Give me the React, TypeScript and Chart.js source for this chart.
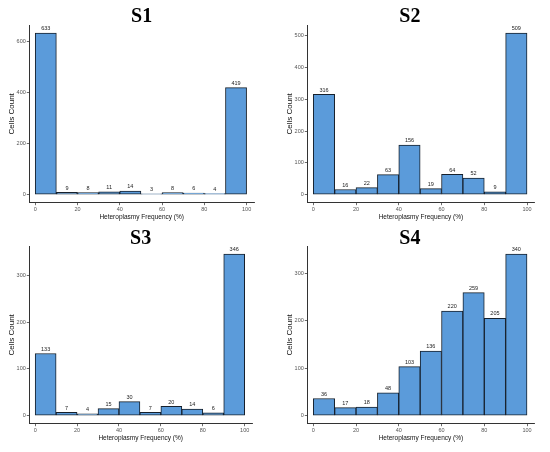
import { useEffect, useRef } from "react";
import { Chart, registerables } from "chart.js";
Chart.register(...registerables);

// histogram bins (Heteroplasmy Frequency %)
const binStarts = [0, 10, 20, 30, 40, 50, 60, 70, 80, 90];
const binWidth = 10;
const xTicks = [0, 20, 40, 60, 80, 100];

const panelTitles = ["S1", "S2", "S3", "S4"];

const s1Counts = [633, 9, 8, 11, 14, 3, 8, 6, 4, 419];
const s2Counts = [316, 16, 22, 63, 156, 19, 64, 52, 9, 509];
const s3Counts = [133, 7, 4, 15, 30, 7, 20, 14, 6, 346];
const s4Counts = [36, 17, 18, 48, 103, 136, 220, 259, 205, 340];

const s1Ticks = [0, 200, 400, 600];
const s2Ticks = [0, 100, 200, 300, 400, 500];
const s3Ticks = [0, 100, 200, 300];
const s4Ticks = [0, 100, 200, 300];

const W = 275;
const H = 226;
const Y_AXIS_W = 22;
const X_AXIS_H = 18;
const AREA_BOTTOM = 202.7;

const sans = "'Liberation Sans', Arial, sans-serif";

const barLabels = {
  id: "barLabels",
  afterDatasetsDraw(chart: any) {
    const { ctx } = chart;
    const meta = chart.getDatasetMeta(0);
    const values = chart.data.datasets[0].data;
    ctx.save();
    ctx.font = `5.5px ${sans}`;
    ctx.fillStyle = "#222";
    ctx.textAlign = "center";
    ctx.textBaseline = "bottom";
    meta.data.forEach((bar: any, i: number) => {
      ctx.fillText(String(values[i].y), bar.x, bar.y - 1.5);
    });
    ctx.restore();
  },
};

type PanelProps = {
  title: string;
  counts: number[];
  yTicks: number[];
  left: number;
  top: number;
  areaLeft: number;
  areaRight: number;
  titleFull: boolean;
  titlePadTop: number;
  titleLh: number;
};

const Panel = (p: PanelProps) => {
  const canvasRef = useRef<HTMLCanvasElement>(null);

  useEffect(() => {
    const maxCount = Math.max(...p.counts);
    const axisCommon = {
      grid: {
        display: true,
        drawOnChartArea: false,
        drawTicks: true,
        tickLength: 2.5,
        color: "#444",
        lineWidth: 0.8,
        offset: false,
      },
      border: { display: true, color: "#333", width: 1 },
      ticks: {
        color: "#555",
        font: { family: sans, size: 5.5 },
        padding: 1,
        autoSkip: false,
        maxRotation: 0,
      },
    };

    const chart = new Chart(canvasRef.current!, {
      type: "bar",
      data: {
        datasets: [
          {
            data: binStarts.map((s, i) => ({ x: s + binWidth / 2, y: p.counts[i] })),
            backgroundColor: "#5B9BDA",
            borderColor: "#16202c",
            borderWidth: 1,
            borderSkipped: false,
            categoryPercentage: 1,
            barPercentage: 1,
          },
        ],
      },
      options: {
        animation: false,
        responsive: false,
        layout: {
          padding: {
            left: p.areaLeft - Y_AXIS_W,
            right: W - p.areaRight,
            top: 0,
            bottom: H - AREA_BOTTOM - X_AXIS_H,
          },
        },
        plugins: {
          legend: { display: false },
          tooltip: { enabled: false },
          title: {
            display: true,
            text: p.title,
            fullSize: p.titleFull,
            color: "#000",
            font: { family: "'Liberation Serif', 'Times New Roman', serif", size: 20, weight: "bold", lineHeight: p.titleLh },
            padding: { top: p.titlePadTop, bottom: 0 },
          },
        },
        scales: {
          x: {
            ...axisCommon,
            type: "linear",
            min: -2.8,
            max: 103.5,
            offset: false,
            afterBuildTicks: (s: any) => {
              s.ticks = xTicks.map((v) => ({ value: v }));
            },
            afterFit: (s: any) => {
              s.height = X_AXIS_H;
            },
            title: {
              display: true,
              text: "Heteroplasmy Frequency (%)",
              color: "#111",
              font: { family: sans, size: 6.5 },
              padding: { top: 0, bottom: 0 },
            },
          },
          y: {
            ...axisCommon,
            type: "linear",
            min: -0.05 * maxCount,
            max: 1.05 * maxCount,
            afterBuildTicks: (s: any) => {
              s.ticks = p.yTicks.map((v) => ({ value: v }));
            },
            afterFit: (s: any) => {
              s.width = Y_AXIS_W;
            },
            title: {
              display: true,
              text: "Cells Count",
              color: "#111",
              font: { family: sans, size: 8 },
              padding: { top: 0, bottom: 0 },
            },
          },
        },
      } as any,
      plugins: [barLabels],
    });

    return () => {
      chart.destroy();
    };
  }, []);

  return (
    <canvas
      ref={canvasRef}
      width={W}
      height={H}
      style={{ position: "absolute", left: p.left, top: p.top, width: W, height: H }}
    />
  );
};

const App = () => {
  return (
    <div style={{ position: "absolute", left: 0, top: 0, width: 550, height: 452, background: "#fff" }}>
      <Panel title={panelTitles[0]} counts={s1Counts} yTicks={s1Ticks} left={0} top={0}
        areaLeft={29.3} areaRight={254} titleFull={false} titlePadTop={8} titleLh={0.85} />
      <Panel title={panelTitles[1]} counts={s2Counts} yTicks={s2Ticks} left={275} top={0}
        areaLeft={32.3} areaRight={259.5} titleFull={true} titlePadTop={8} titleLh={0.85} />
      <Panel title={panelTitles[2]} counts={s3Counts} yTicks={s3Ticks} left={0} top={221}
        areaLeft={29.3} areaRight={252} titleFull={false} titlePadTop={10} titleLh={0.75} />
      <Panel title={panelTitles[3]} counts={s4Counts} yTicks={s4Ticks} left={275} top={221}
        areaLeft={32.3} areaRight={259.5} titleFull={true} titlePadTop={10} titleLh={0.75} />
    </div>
  );
};

export default App;
